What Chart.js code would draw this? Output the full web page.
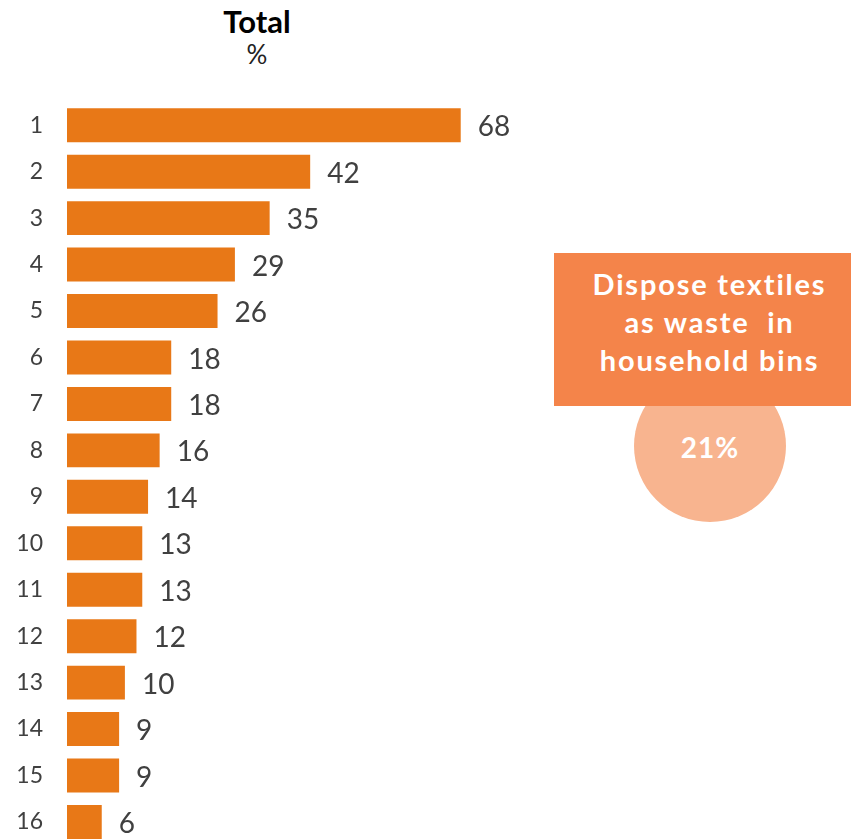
<!DOCTYPE html>
<html>
<head>
<meta charset="utf-8">
<script src="https://cdn.jsdelivr.net/npm/chart.js@4.4.0/dist/chart.umd.min.js"></script>
<style>
    html, body { margin: 0; padding: 0; background: #fff; overflow: hidden; }
    body { width: 851px; height: 839px; position: relative; font-family: 'Lato', 'Open Sans', sans-serif; }
    #barChart { position: absolute; left: 0; top: 0; }
    .title { position: absolute; left: 157px; width: 200px; text-align: center; color: #000; }
    #t1 { top: 2px; font-size: 31px; font-weight: bold; }
    #t2 { top: 38px; font-size: 26px; color: #222; }
    #circle { position: absolute; left: 634px; top: 370px; width: 152px; height: 152px; border-radius: 50%;
        background: #F8B48F; color: #fff; font-weight: bold; font-size: 28px; letter-spacing: 1px; text-align: center; line-height: 152px; }
    #circle span { position: relative; top: 1px; }
    #box { position: absolute; left: 554px; top: 253px; width: 297px; height: 153px; background: #F4844A;
        color: #fff; font-weight: bold; font-size: 29px; letter-spacing: 1.8px; line-height: 38px; text-align: center; box-sizing: border-box; padding-top: 12px; padding-left: 14px; }
</style>
</head>
<body>
<div class="title" id="t1">Total</div>
<div class="title" id="t2">%</div>
<canvas id="barChart" width="851" height="875"></canvas>
<div id="circle"><span>21%</span></div>
<div id="box">Dispose textiles<br>as waste&nbsp; in<br>household bins</div>
<script>
// Dữ liệu biểu đồ
const categories = ['1', '2', '3', '4', '5', '6', '7', '8', '9', '10', '11', '12', '13', '14', '15', '16'];
const totalValues = [68, 42, 35, 29, 26, 18, 18, 16, 14, 13, 13, 12, 10, 9, 9, 6];

const barColor = '#E87817';
const textColor = '#404040';

// Vẽ nhãn giá trị bên phải mỗi thanh
const valueLabels = {
    id: 'valueLabels',
    afterDatasetsDraw(chart) {
        const ctx = chart.ctx;
        const meta = chart.getDatasetMeta(0);
        ctx.save();
        ctx.font = '28px Lato, "Open Sans", sans-serif';
        ctx.fillStyle = textColor;
        ctx.textAlign = 'left';
        ctx.textBaseline = 'middle';
        meta.data.forEach((bar, i) => {
            ctx.fillText(totalValues[i], bar.x + 17, bar.y + 2);
        });
        ctx.restore();
    }
};

const ctx = document.getElementById('barChart').getContext('2d');
new Chart(ctx, {
    type: 'bar',
    data: {
        labels: categories,
        datasets: [{
            data: totalValues,
            backgroundColor: barColor,
            borderWidth: 0,
            barPercentage: 0.73,
            categoryPercentage: 1.0
        }]
    },
    options: {
        indexAxis: 'y',
        responsive: false,
        animation: false,
        layout: {
            padding: { top: 102, right: 205, bottom: 0, left: 0 }
        },
        plugins: {
            legend: { display: false },
            tooltip: { enabled: false }
        },
        scales: {
            x: {
                display: false,
                min: 0,
                max: 100
            },
            y: {
                grid: { display: false },
                border: { display: false },
                ticks: {
                    color: textColor,
                    font: { family: 'Lato, "Open Sans", sans-serif', size: 23 },
                    padding: 16
                },
                afterFit: function(axis) {
                    axis.width = 67;
                }
            }
        }
    },
    plugins: [valueLabels]
});
</script>
</body>
</html>
